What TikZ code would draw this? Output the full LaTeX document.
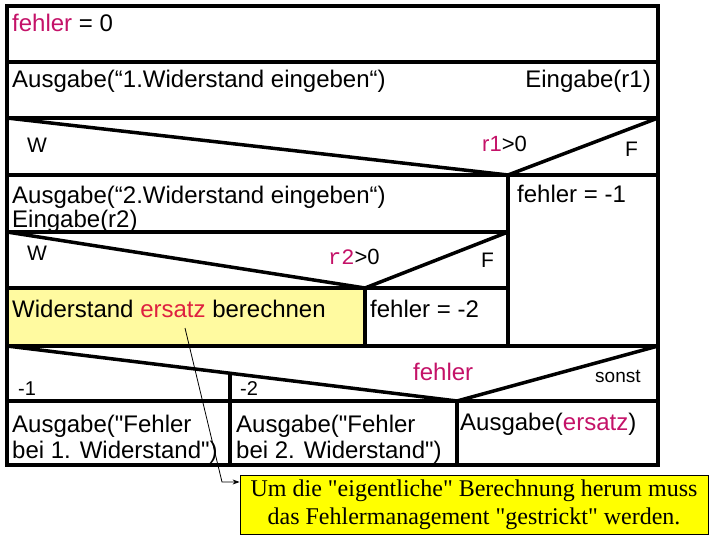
\documentclass[tikz,border=0pt]{standalone}
\usepackage{fontspec}
\setmainfont{Liberation Sans}[Ligatures=TeXOff]
\newfontfamily\annfont{Liberation Serif}
\newfontfamily\codefont{Liberation Mono}
\usetikzlibrary{arrows.meta}
\definecolor{mag}{RGB}{196,18,104}
\definecolor{ersred}{RGB}{222,32,64}
\definecolor{lightyel}{RGB}{255,250,160}
\definecolor{brightyel}{RGB}{255,255,0}
\begin{document}
\begin{tikzpicture}[x=1pt,y=-1pt,
  struct/.style={line width=3.5pt},
  txt/.style={anchor=base west, inner sep=0pt, font=\fontsize{24}{28}\selectfont},
  lbl/.style={anchor=base west, inner sep=0pt, font=\fontsize{21}{22}\selectfont},
  cond/.style={anchor=base west, inner sep=0pt, font=\fontsize{22}{24}\selectfont},
  annot/.style={draw, fill=brightyel, line width=0.8pt, inner sep=0pt,
    minimum width=468pt, minimum height=59pt, align=center,
    font=\annfont\fontsize{24}{28}\selectfont},
  pointer/.style={line width=0.8pt, -{Stealth[length=7pt,width=5pt]}}]
\useasboundingbox (0,0) rectangle (720,540);
% yellow block
\fill[lightyel] (7,288) rectangle (365,346);
% structure lines
\draw[struct] (7,62) -- (658,62);
\draw[struct] (7,118) -- (658,118);
\draw[struct] (7,118) -- (508,175) -- (658,118);
\draw[struct] (7,175) -- (658,175);
\draw[struct] (508,175) -- (508,346);
\draw[struct] (7,232) -- (508,232);
\draw[struct] (7,232) -- (365,288) -- (508,232);
\draw[struct] (7,288) -- (508,288);
\draw[struct] (365,288) -- (365,346);
\draw[struct] (7,346) -- (658,346);
\draw[struct] (7,346) -- (457,401) -- (658,346);
\draw[struct] (7,401) -- (658,401);
\draw[struct] (230,372.8) -- (230,465);
\draw[struct] (457,401) -- (457,465);
\draw[struct] (7,6) rectangle (658,465);
% texts
\node[txt] (t1) at (12,32) {\textcolor{mag}{fehler} = 0};
\node[txt] (t2) at (12,88) {Ausgabe(“1.Widerstand eingeben“)};
\node[txt, anchor=base east] (t3) at (651,88) {Eingabe(r1)};
\node[lbl] (w1) at (27,153) {W};
\node[cond] (c1) at (482,152) {\textcolor{mag}{r1}>0};
\node[lbl] (f1) at (625,157) {F};
\node[txt] (t4) at (12,204) {Ausgabe(“2.Widerstand eingeben“)};
\node[txt] (t4b) at (12,227) {Eingabe(r2)};
\node[txt] (t5) at (517,203) {fehler = -1};
\node[lbl] (w2) at (27,260) {W};
\node[cond] (c2) at (328,264) {\textcolor{mag}{\codefont r2}>0};
\node[lbl] (f2) at (481,267) {F};
\node[txt] (t6) at (12,317) {Widerstand \textcolor{ersred}{ersatz} berechnen};
\node[txt] (t7) at (370,317) {fehler = -2};
\node[cond, font=\fontsize{20}{22}\selectfont] (m1) at (18,395) {-1};
\node[cond, font=\fontsize{20}{22}\selectfont] (m2) at (240,395) {-2};
\node[txt, text=mag] (sel) at (413,380) {fehler};
\node[anchor=base west, inner sep=0pt, font=\fontsize{19}{21}\selectfont] (so) at (595,382) {sonst};
\node[txt] (a1) at (12,432) {Ausgabe("Fehler};
\node[txt] (a1b) at (12,458) {bei 1. Widerstand")};
\node[txt] (a2) at (236,432) {Ausgabe("Fehler};
\node[txt] (a2b) at (236,458) {bei 2. Widerstand")};
\node[txt] (a3) at (460,430) {Ausgabe(\textcolor{mag}{ersatz})};
% annotation
\node[annot] (ann) at (474,504.5) {Um die "eigentliche" Berechnung herum muss\\das Fehlermanagement "gestrickt" werden.};
\coordinate (src) at (185,328);
\coordinate (elb) at (222,482);
\draw[pointer] (src) -- (elb) -- (elb -| ann.west);
\end{tikzpicture}
\end{document}
